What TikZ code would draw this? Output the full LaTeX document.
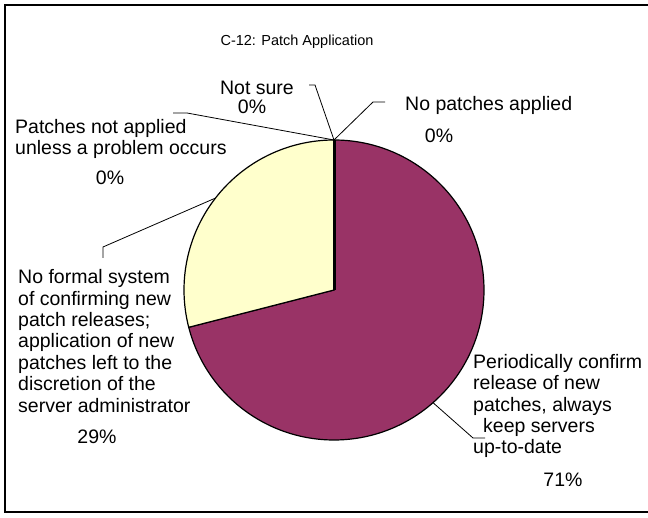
\documentclass[tikz,border=0pt]{standalone}
\usepackage{fontspec}
\setmainfont{Liberation Sans}
\definecolor{plum}{RGB}{153,51,102}
\definecolor{paleyellow}{RGB}{255,255,204}

\tikzset{
  lbl/.style={inner sep=0pt, align=left, anchor=west, font=\fontsize{19.5}{21.4}\selectfont},
  pct/.style={inner sep=0pt, font=\fontsize{19.5}{21.4}\selectfont},
  leader/.style={line width=0.8pt},
}

\begin{document}
\begin{tikzpicture}[x=1pt,y=1pt]
\useasboundingbox (0,0) rectangle (648,518);
% Frame
\draw[line width=1.2pt] (648,513) -- (5,513) -- (5,6) -- (648,6);
\node[pct, font=\fontsize{14.5}{18}\selectfont] (title) at (297,476) {C-12: Patch Application};

% Pie
\coordinate (c) at (334,228);
\filldraw[fill=plum, line width=1.2pt] (c) -- ++(90:150) arc[start angle=90, end angle=-165.6, radius=150] -- cycle;
\filldraw[fill=paleyellow, line width=1.2pt] (c) -- ++(90:150) arc[start angle=90, end angle=194.4, radius=150] -- cycle;
\draw[line width=3pt] (c) -- ++(90:150) coordinate (ptop);
\path (c) ++(142.2:150) coordinate (pyel);
\path (c) ++(-48.7:150) coordinate (pmar);

% Labels
\node[pct] (notsure) at (257,430) {Not sure};
\node[pct] (nsval) at (252,411) {0\%};
\node[lbl] (nopatch) at (405,413) {No patches applied};
\node[pct] (npval) at (439,382) {0\%};
\node[lbl] (unless) at (15,379) {Patches not applied\\unless a problem occurs};
\node[pct] (unval) at (110,340) {0\%};
\node[lbl] (noformal) at (18,177) {No formal system\\of confirming new\\patch releases;\\application of new\\patches left to the\\discretion of the\\server administrator};
\node[pct] (nfval) at (97,81) {29\%};
\node[lbl] (period) at (473,112) {Periodically confirm\\release of new\\patches, always\\\hspace{10pt}keep servers\\up-to-date};
\node[pct] (peval) at (563,38) {71\%};

% Leader lines
\coordinate (nsb) at (315,433);
\coordinate (nse) at (309,433);
\coordinate (npb) at (373,416);
\coordinate (npe) at (385,416);
\coordinate (unb) at (187,405);
\coordinate (une) at (173,405);
\coordinate (nfb) at (103,271);
\coordinate (nfe) at (103,260);
\coordinate (peb) at (473,80);
\coordinate (pee) at (485,80);
\draw[leader] (ptop) -- (nsb) -- (nse);
\draw[leader] (ptop) -- (npb) -- (npe);
\draw[leader] (ptop) -- (unb) -- (une);
\draw[leader] (pyel) -- (nfb) -- (nfe);
\draw[leader] (pmar) -- (peb) -- (pee);
\end{tikzpicture}
\end{document}
